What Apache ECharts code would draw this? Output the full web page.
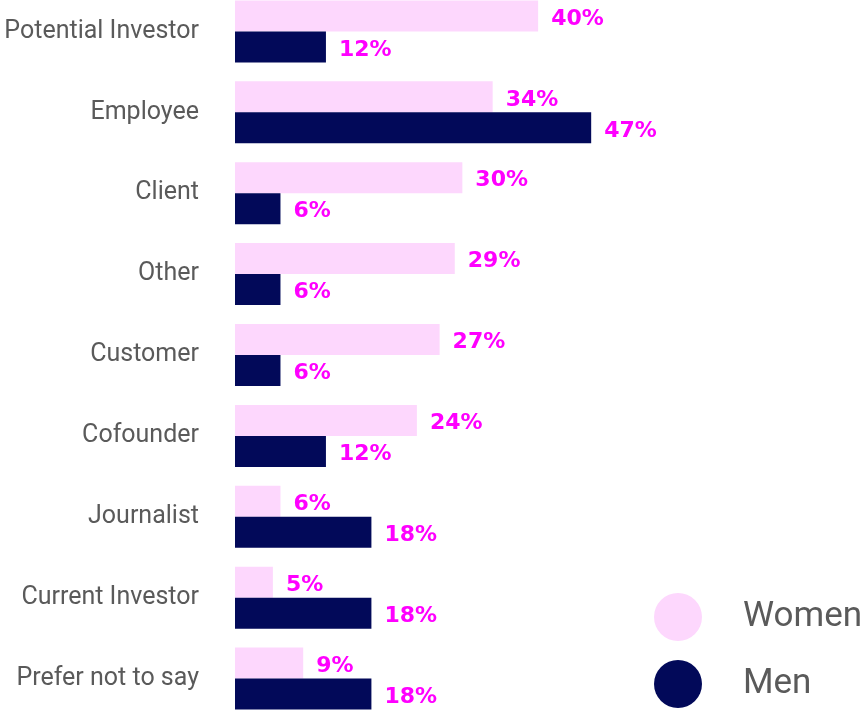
<!DOCTYPE html>
<html>
<head>
<meta charset="utf-8">
<script src="https://cdn.jsdelivr.net/npm/echarts@6/dist/echarts.min.js"></script>
<style>
  html, body { margin: 0; padding: 0; background: #fff; }
  #chart { width: 864px; height: 710px; }
</style>
</head>
<body>
<div id="chart"></div>
<script>
// categories, top to bottom
var categories = ['Potential Investor', 'Employee', 'Client', 'Other', 'Customer',
  'Cofounder', 'Journalist', 'Current Investor', 'Prefer not to say'];
var women = [40, 34, 30, 29, 27, 24, 6, 5, 9];
var men = [12, 47, 6, 6, 6, 12, 18, 18, 18];

var labelStyle = {
  show: true,
  position: 'right',
  distance: 13,
  offset: [0, 3],
  formatter: '{c}%',
  color: '#ff00ff',
  fontFamily: 'DejaVu Sans',
  fontWeight: 'bold',
  fontSize: 22
};

var myChart = echarts.init(document.getElementById('chart'));
myChart.setOption({
  animation: false,
  grid: {
    left: 235,
    top: -9,
    right: 0,
    bottom: -9,
    outerBoundsMode: 'none',
    containLabel: false
  },
  legend: {
    data: ['Women', 'Men'],
    orient: 'vertical',
    left: 654,
    top: 593,
    padding: 0,
    icon: 'circle',
    itemWidth: 48,
    itemHeight: 48,
    itemGap: 19,
    textStyle: {
      color: '#5a5a5a',
      fontSize: 35,
      fontFamily: 'Roboto',
      padding: [0, 0, 0, 36]
    }
  },
  xAxis: {
    type: 'value',
    min: 0,
    max: 83,
    show: false
  },
  yAxis: {
    type: 'category',
    data: categories,
    inverse: true,
    axisLine: { show: false },
    axisTick: { show: false },
    splitLine: { show: false },
    axisLabel: {
      margin: 36,
      color: '#5a5a5a',
      fontSize: 25,
      fontFamily: 'Roboto'
    }
  },
  series: [
    {
      name: 'Women',
      type: 'bar',
      data: women,
      barWidth: 31,
      barGap: '0%',
      itemStyle: { color: '#fdd7fd' },
      label: labelStyle
    },
    {
      name: 'Men',
      type: 'bar',
      data: men,
      barWidth: 31,
      itemStyle: { color: '#020959' },
      label: labelStyle
    }
  ]
});
</script>
</body>
</html>
